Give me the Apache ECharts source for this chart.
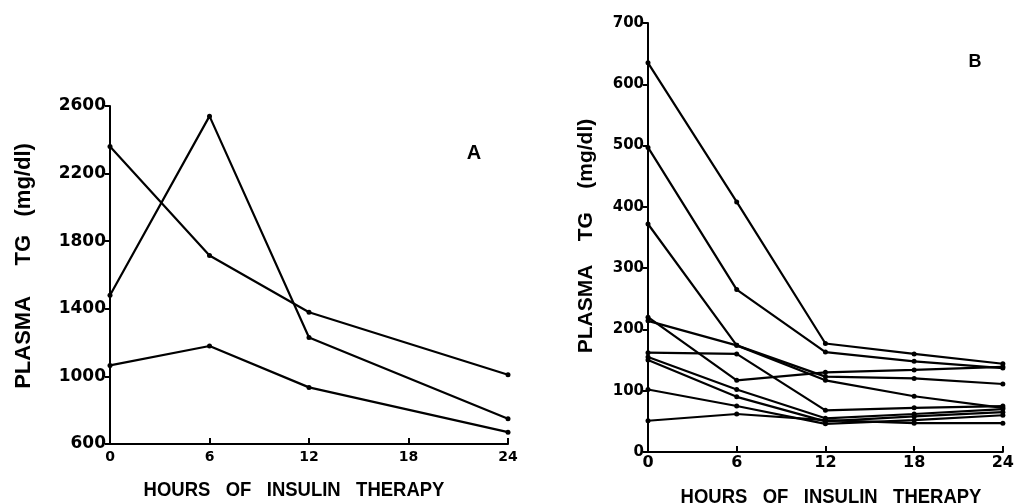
<!DOCTYPE html>
<html>
<head>
<meta charset="utf-8">
<script src="https://cdn.jsdelivr.net/npm/echarts@6/dist/echarts.min.js"></script>
<style>
  html, body { margin: 0; padding: 0; background: #fff; }
  #chart { width: 1017px; height: 503px; }
</style>
</head>
<body>
<div id="chart"></div>
<script>
// panel A: hours with points (no reading at 18 h)
const hoursA = [0, 6, 12, 24];
const patientA1 = [2360, 1715, 1380, 1010];
const patientA2 = [1480, 2540, 1230, 750];
const patientA3 = [1065, 1180, 935, 670];
const ticksA = [600, 1000, 1400, 1800, 2200, 2600];

// panel B
const hoursB = [0, 6, 12, 18, 24];
const patientB1 = [635, 408, 177, 160, 144];
const patientB2 = [497, 265, 163, 148, 137];
const patientB3 = [372, 174, 123, 120, 111];
const patientB4 = [214, 174, 117, 91, 72];
const patientB5 = [220, 117, 130, 134, 139];
const patientB6 = [162, 160, 68, 72, 75];
const patientB7 = [155, 102, 55, 62, 70];
const patientB8 = [150, 90, 50, 58, 65];
const patientB9 = [102, 75, 46, 52, 60];
const patientB10 = [51, 62, 52, 47, 47];
const ticksB = [0, 100, 200, 300, 400, 500, 600, 700];
const hourTicks = [0, 6, 12, 18, 24];

const LABEL_FONT = 'DejaVu Sans';
const TITLE_FONT = '"Liberation Sans", Arial, sans-serif';

const pairs = (xs, ys) => xs.map((x, i) => [x, ys[i]]);

const makeLine = (data, idx) => ({
  type: 'line',
  xAxisIndex: idx,
  yAxisIndex: idx,
  data: data,
  symbol: 'circle',
  symbolSize: 5,
  lineStyle: { color: '#000', width: 2.2 },
  itemStyle: { color: '#000' },
  silent: true,
  animation: false
});

const xAxisFor = (idx, size, margin) => ({
  type: 'value',
  gridIndex: idx,
  min: 0,
  max: 24,
  interval: 6,
  axisLine: { lineStyle: { color: '#000', width: 2 } },
  axisTick: { inside: true, length: 6, lineStyle: { color: '#000', width: 2 } },
  axisLabel: {
    color: '#000', fontFamily: LABEL_FONT, fontWeight: 'bold', fontSize: size, margin: margin,
    formatter: (v) => hourTicks.includes(v) ? String(v) : ''
  },
  splitLine: { show: false }
});

const yAxisFor = (idx, ticks, size) => ({
  type: 'value',
  gridIndex: idx,
  min: ticks[0],
  max: ticks[ticks.length - 1],
  interval: ticks[1] - ticks[0],
  axisLine: { show: true, lineStyle: { color: '#000', width: 2 } },
  axisTick: { show: true, length: 5, lineStyle: { color: '#000', width: 2 } },
  axisLabel: {
    color: '#000', fontFamily: LABEL_FONT, fontWeight: 'bold', fontSize: size, margin: 4,
    formatter: (v) => String(v)
  },
  splitLine: { show: false }
});

// text is squeezed/stretched along its own direction to follow the lettering
const titleText = (x, y, text, size, rot, stretch) => ({
  type: 'text',
  x: x,
  y: y,
  rotation: rot || 0,
  scaleX: stretch || 1,
  style: {
    text: text,
    fill: '#000',
    font: 'bold ' + size + 'px ' + TITLE_FONT,
    textAlign: 'center',
    textVerticalAlign: 'middle'
  }
});

const chart = echarts.init(document.getElementById('chart'));
chart.setOption({
  animation: false,
  backgroundColor: '#fff',
  grid: [
    { left: 110, top: 106, width: 398, height: 338 },
    { left: 648, top: 23, width: 362, height: 429 }
  ],
  xAxis: [xAxisFor(0, 14, 6), xAxisFor(1, 16, 3)],
  yAxis: [yAxisFor(0, ticksA, 17), yAxisFor(1, ticksB, 15)],
  series: [
    makeLine(pairs(hoursA, patientA1), 0),
    makeLine(pairs(hoursA, patientA2), 0),
    makeLine(pairs(hoursA, patientA3), 0),
    makeLine(pairs(hoursB, patientB1), 1),
    makeLine(pairs(hoursB, patientB2), 1),
    makeLine(pairs(hoursB, patientB3), 1),
    makeLine(pairs(hoursB, patientB4), 1),
    makeLine(pairs(hoursB, patientB5), 1),
    makeLine(pairs(hoursB, patientB6), 1),
    makeLine(pairs(hoursB, patientB7), 1),
    makeLine(pairs(hoursB, patientB8), 1),
    makeLine(pairs(hoursB, patientB9), 1),
    makeLine(pairs(hoursB, patientB10), 1)
  ],
  graphic: [
    titleText(24, 266, 'PLASMA     TG   (mg/dl)', 22, Math.PI / 2),
    titleText(294, 490, 'HOURS   OF   INSULIN   THERAPY', 21, 0, 0.88),
    titleText(474, 153, 'A', 20),
    titleText(586, 236, 'PLASMA    TG    (mg/dl)', 21, Math.PI / 2),
    titleText(831, 497, 'HOURS   OF   INSULIN   THERAPY', 21, 0, 0.88),
    titleText(975, 62, 'B', 18)
  ]
});
</script>
</body>
</html>
